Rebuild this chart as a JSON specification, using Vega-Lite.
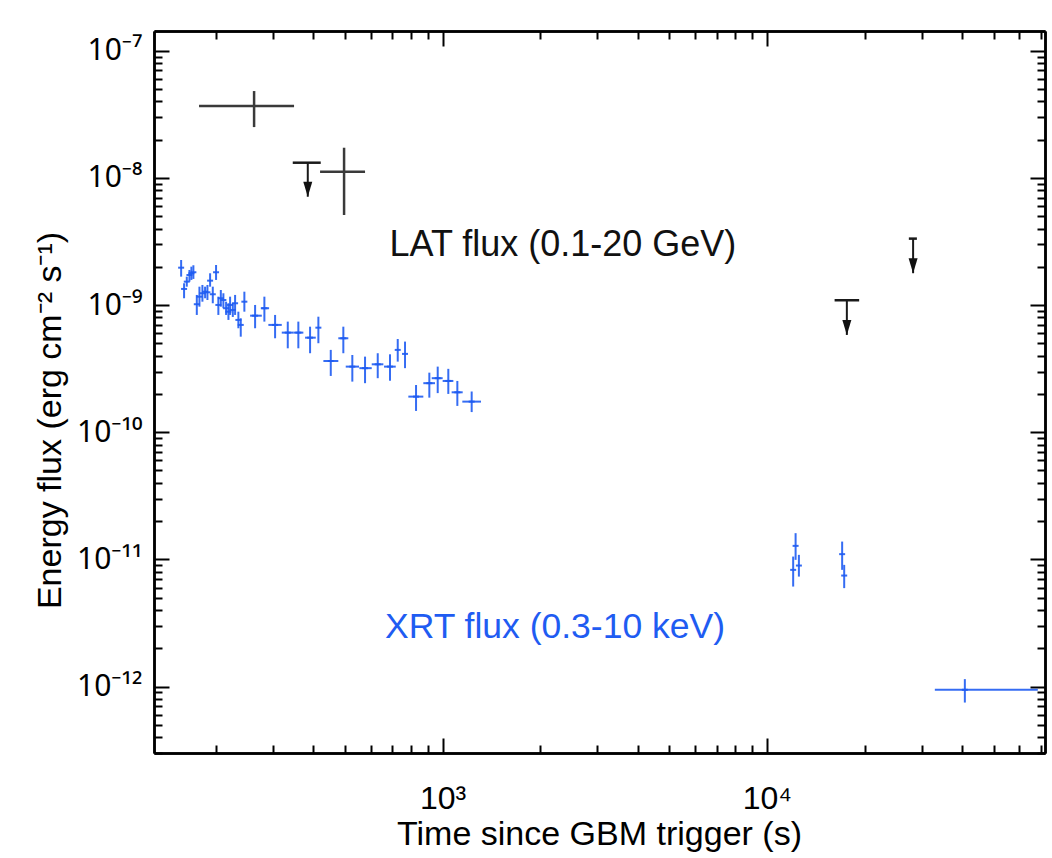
{
  "$schema": "https://vega.github.io/schema/vega-lite/v6.json",
  "width": 891,
  "height": 722,
  "autosize": "none",
  "padding": {"left": 154, "top": 31, "right": 7, "bottom": 105},
  "background": "white",
  "config": {
    "view": {"stroke": null},
    "font": "Liberation Sans",
    "axis": {
      "domainColor": "black", "domainWidth": 2.5,
      "tickColor": "black", "tickWidth": 2,
      "labelFont": "Liberation Sans", "labelFontSize": 32, "labelColor": "black",
      "titleFont": "Liberation Sans", "titleFontSize": 34, "titleFontWeight": "normal", "titleColor": "black",
      "grid": false, "labelOverlap": false, "labelBound": false, "labelFlush": false
    }
  },
  "datasets": {
    "lat_cross": [
      {"t": 262.5, "tlo": 177.6, "thi": 348.6, "f": 3.674e-8, "flo": 2.51e-8, "fhi": 4.82e-8},
      {"t": 497.2, "tlo": 419.3, "thi": 577.0, "f": 1.119e-8, "flo": 5.11e-9, "fhi": 1.727e-8}
    ],
    "lat_ul": [
      {"t": 384.3, "tlo": 345.4, "thi": 421.3, "f": 1.317e-8, "tip": 7.11e-9},
      {"t": 17640, "tlo": 16170, "thi": 19250, "f": 1.091e-9, "tip": 5.82e-10},
      {"t": 28230, "tlo": 27390, "thi": 29000, "f": 3.33e-9, "tip": 1.78e-9}
    ],
    "xrt": [
      {"t": 156.4, "f": 1.968e-9, "flo": 1.673e-9, "fhi": 2.262e-9},
      {"t": 159.7, "f": 1.339e-9, "flo": 1.131e-9, "fhi": 1.484e-9},
      {"t": 162.8, "f": 1.528e-9, "flo": 1.395e-9, "fhi": 1.673e-9},
      {"t": 165.9, "f": 1.724e-9, "flo": 1.528e-9, "fhi": 1.888e-9},
      {"t": 168.2, "f": 1.778e-9, "flo": 1.576e-9, "fhi": 2.004e-9},
      {"t": 170.6, "f": 1.811e-9, "flo": 1.605e-9, "fhi": 2.056e-9},
      {"t": 174.8, "f": 1.015e-9, "flo": 8.36e-10, "fhi": 1.201e-9},
      {"t": 178.1, "f": 1.164e-9, "flo": 9.71e-10, "fhi": 1.395e-9},
      {"t": 181.9, "f": 1.238e-9, "flo": 1.063e-9, "fhi": 1.439e-9},
      {"t": 185.4, "f": 1.274e-9, "flo": 1.131e-9, "fhi": 1.395e-9},
      {"t": 188.5, "f": 1.26e-9, "flo": 1.096e-9, "fhi": 1.439e-9},
      {"t": 192.1, "f": 1.556e-9, "flo": 1.395e-9, "fhi": 1.778e-9},
      {"t": 195.8, "f": 1.216e-9, "flo": 1.033e-9, "fhi": 1.395e-9},
      {"t": 200.4, "f": 1.811e-9, "flo": 1.576e-9, "fhi": 2.066e-9},
      {"t": 203.7, "f": 1.002e-9, "flo": 8.36e-10, "fhi": 1.164e-9},
      {"t": 207.3, "f": 1.131e-9, "flo": 9.71e-10, "fhi": 1.314e-9},
      {"t": 211.1, "f": 1.096e-9, "flo": 9.44e-10, "fhi": 1.238e-9},
      {"t": 215.2, "f": 9.44e-10, "flo": 8.36e-10, "fhi": 1.063e-9},
      {"t": 218.8, "f": 8.87e-10, "flo": 7.64e-10, "fhi": 1.033e-9},
      {"t": 221.4, "f": 1.002e-9, "flo": 8.36e-10, "fhi": 1.164e-9},
      {"t": 225.7, "f": 9.15e-10, "flo": 8.06e-10, "fhi": 1.04e-9},
      {"t": 229.4, "f": 1.033e-9, "flo": 8.36e-10, "fhi": 1.201e-9},
      {"t": 234.8, "f": 7.64e-10, "flo": 6.57e-10, "fhi": 8.87e-10},
      {"t": 238.8, "f": 6.98e-10, "flo": 5.64e-10, "fhi": 7.87e-10},
      {"t": 245.0, "f": 1.063e-9, "flo": 8.87e-10, "fhi": 1.274e-9},
      {"t": 264.4, "tlo": 255.2, "thi": 277.3, "f": 8.25e-10, "flo": 6.57e-10, "fhi": 1.002e-9},
      {"t": 282.4, "tlo": 275.3, "thi": 292.0, "f": 9.44e-10, "flo": 7.41e-10, "fhi": 1.164e-9},
      {"t": 304.7, "tlo": 290.5, "thi": 319.5, "f": 6.98e-10, "flo": 5.48e-10, "fhi": 8.36e-10},
      {"t": 333.4, "tlo": 319.5, "thi": 346.9, "f": 6.07e-10, "flo": 4.57e-10, "fhi": 7.41e-10},
      {"t": 359.4, "tlo": 346.9, "thi": 372.4, "f": 6.07e-10, "flo": 4.57e-10, "fhi": 7.41e-10},
      {"t": 390.6, "tlo": 377.0, "thi": 406.7, "f": 5.54e-10, "flo": 4.18e-10, "fhi": 6.76e-10},
      {"t": 414.3, "f": 6.64e-10, "flo": 5.01e-10, "fhi": 8.1e-10},
      {"t": 452.4, "tlo": 429.3, "thi": 477.3, "f": 3.63e-10, "flo": 2.77e-10, "fhi": 4.44e-10},
      {"t": 494.6, "tlo": 477.3, "thi": 512.4, "f": 5.48e-10, "flo": 4.18e-10, "fhi": 6.76e-10},
      {"t": 527.2, "tlo": 503.1, "thi": 553.0, "f": 3.28e-10, "flo": 2.50e-10, "fhi": 4.05e-10},
      {"t": 577.0, "tlo": 554.2, "thi": 605.1, "f": 3.19e-10, "flo": 2.43e-10, "fhi": 3.93e-10},
      {"t": 631.4, "tlo": 605.1, "thi": 657.1, "f": 3.42e-10, "flo": 2.66e-10, "fhi": 4.18e-10},
      {"t": 688.9, "tlo": 660.3, "thi": 717.5, "f": 3.28e-10, "flo": 2.54e-10, "fhi": 4.10e-10},
      {"t": 727.7, "f": 4.44e-10, "flo": 3.59e-10, "fhi": 5.41e-10},
      {"t": 766.4, "f": 4.13e-10, "flo": 3.19e-10, "fhi": 5.16e-10},
      {"t": 828.7, "tlo": 784.6, "thi": 872.7, "f": 1.905e-10, "flo": 1.47e-10, "fhi": 2.35e-10},
      {"t": 910.7, "tlo": 872.7, "thi": 948.2, "f": 2.43e-10, "flo": 1.87e-10, "fhi": 2.94e-10},
      {"t": 966.5, "tlo": 926.3, "thi": 1001, "f": 2.66e-10, "flo": 2.03e-10, "fhi": 3.28e-10},
      {"t": 1042, "tlo": 1001, "thi": 1080, "f": 2.53e-10, "flo": 2.00e-10, "fhi": 3.15e-10},
      {"t": 1111, "tlo": 1067, "thi": 1154, "f": 2.06e-10, "flo": 1.61e-10, "fhi": 2.53e-10},
      {"t": 1230, "tlo": 1151, "thi": 1314, "f": 1.74e-10, "flo": 1.44e-10, "fhi": 2.09e-10},
      {"t": 12050, "f": 8.27e-12, "flo": 6.11e-12, "fhi": 1.052e-11},
      {"t": 12260, "f": 1.277e-11, "flo": 9.91e-12, "fhi": 1.607e-11},
      {"t": 12550, "f": 8.94e-12, "flo": 7.32e-12, "fhi": 1.085e-11},
      {"t": 17060, "f": 1.099e-11, "flo": 8.27e-12, "fhi": 1.38e-11},
      {"t": 17310, "f": 7.46e-12, "flo": 5.94e-12, "fhi": 9.05e-12},
      {"t": 40760, "tlo": 32940, "thi": 68420, "f": 9.42e-13, "flo": 7.48e-13, "fhi": 1.143e-12}
    ],
    "labels": [
      {"t": 2351, "f": 2.97e-9, "label": "LAT flux (0.1-20 GeV)", "kind": "LAT"},
      {"t": 2222, "f": 2.95e-12, "label": "XRT flux (0.3-10 keV)", "kind": "XRT"}
    ]
  },
  "layer": [
    {
      "data": {"name": "lat_cross"},
      "mark": {"type": "rule", "color": "#3a3a3a", "strokeWidth": 2.5},
      "encoding": {
        "x": {"field": "tlo", "type": "quantitative",
          "scale": {"type": "log", "domain": [129, 72000], "nice": false},
          "axis": {
            "orient": "bottom",
            "values": [1000, 10000],
            "tickSize": -15,
            "labelExpr": "datum.value == 1000 ? '10³' : '10⁴'",
            "labelPadding": 45,
            "title": "Time since GBM trigger (s)",
            "titleX": 445, "titleY": 91, "titleBaseline": "alphabetic"
          }},
        "x2": {"field": "thi"},
        "y": {"field": "f", "type": "quantitative",
          "scale": {"type": "log", "domain": [3.0e-13, 1.43e-7], "nice": false},
          "axis": {
            "orient": "left",
            "values": [1e-12, 1e-11, 1e-10, 1e-9, 1e-8, 1e-7],
            "tickSize": -15,
            "labelFont": "Noto Sans",
            "labelFontSize": 30,
            "labelExpr": "datum.value == 1e-7 ? '10⁻⁷' : datum.value == 1e-8 ? '10⁻⁸' : datum.value == 1e-9 ? '10⁻⁹' : datum.value == 1e-10 ? '10⁻¹⁰' : datum.value == 1e-11 ? '10⁻¹¹' : '10⁻¹²'",
            "labelPadding": 27,
            "title": "Energy flux (erg cm⁻² s⁻¹)",
            "titleX": -104, "titleY": 389, "titleAngle": -90, "titleBaseline": "middle", "titleAlign": "center"
          }}
      }
    },
    {
      "data": {"name": "lat_cross"},
      "mark": {"type": "rule", "color": "#3a3a3a", "strokeWidth": 2.5},
      "encoding": {
        "x": {"field": "t", "type": "quantitative",
          "scale": {"type": "log", "domain": [129, 72000], "nice": false},
          "axis": {"orient": "top", "values": [1000, 10000], "tickSize": -15, "labels": false, "title": null}},
        "y": {"field": "flo", "type": "quantitative",
          "scale": {"type": "log", "domain": [3.0e-13, 1.43e-7], "nice": false},
          "axis": {"orient": "right", "values": [1e-12, 1e-11, 1e-10, 1e-9, 1e-8, 1e-7], "tickSize": -15, "labels": false, "title": null}},
        "y2": {"field": "fhi"}
      }
    },
    {
      "data": {"name": "lat_ul"},
      "mark": {"type": "rule", "color": "#1a1a1a", "strokeWidth": 2.5},
      "encoding": {
        "x": {"field": "tlo", "type": "quantitative", "scale": {"type": "log", "domain": [129, 72000], "nice": false},
          "axis": {"orient": "bottom", "values": [200, 300, 400, 500, 600, 700, 800, 900, 2000, 3000, 4000, 5000, 6000, 7000, 8000, 9000, 20000, 30000, 40000, 50000, 60000, 70000], "tickSize": -8, "labels": false, "title": null}},
        "x2": {"field": "thi"},
        "y": {"field": "f", "type": "quantitative", "scale": {"type": "log", "domain": [3.0e-13, 1.43e-7], "nice": false},
          "axis": {"orient": "left", "values": [3e-13, 4e-13, 5e-13, 6e-13, 7e-13, 8e-13, 9e-13, 2e-12, 3e-12, 4e-12, 5e-12, 6e-12, 7e-12, 8e-12, 9e-12, 2e-11, 3e-11, 4e-11, 5e-11, 6e-11, 7e-11, 8e-11, 9e-11, 2e-10, 3e-10, 4e-10, 5e-10, 6e-10, 7e-10, 8e-10, 9e-10, 2e-9, 3e-9, 4e-9, 5e-9, 6e-9, 7e-9, 8e-9, 9e-9, 2e-8, 3e-8, 4e-8, 5e-8, 6e-8, 7e-8, 8e-8, 9e-8], "tickSize": -8, "labels": false, "title": null}}
      }
    },
    {
      "data": {"name": "lat_ul"},
      "mark": {"type": "rule", "color": "#1a1a1a", "strokeWidth": 2},
      "encoding": {
        "x": {"field": "t", "type": "quantitative", "scale": {"type": "log", "domain": [129, 72000], "nice": false},
          "axis": {"orient": "top", "values": [200, 300, 400, 500, 600, 700, 800, 900, 2000, 3000, 4000, 5000, 6000, 7000, 8000, 9000, 20000, 30000, 40000, 50000, 60000, 70000], "tickSize": -8, "labels": false, "title": null}},
        "y": {"field": "f", "type": "quantitative", "scale": {"type": "log", "domain": [3.0e-13, 1.43e-7], "nice": false},
          "axis": {"orient": "right", "values": [3e-13, 4e-13, 5e-13, 6e-13, 7e-13, 8e-13, 9e-13, 2e-12, 3e-12, 4e-12, 5e-12, 6e-12, 7e-12, 8e-12, 9e-12, 2e-11, 3e-11, 4e-11, 5e-11, 6e-11, 7e-11, 8e-11, 9e-11, 2e-10, 3e-10, 4e-10, 5e-10, 6e-10, 7e-10, 8e-10, 9e-10, 2e-9, 3e-9, 4e-9, 5e-9, 6e-9, 7e-9, 8e-9, 9e-9, 2e-8, 3e-8, 4e-8, 5e-8, 6e-8, 7e-8, 8e-8, 9e-8], "tickSize": -8, "labels": false, "title": null}},
        "y2": {"field": "tip"}
      }
    },
    {
      "data": {"name": "lat_ul"},
      "mark": {"type": "point", "shape": "M-0.6,-2L0.6,-2L0,0Z", "size": 225, "filled": true, "color": "#111111", "opacity": 1, "strokeWidth": 0},
      "encoding": {
        "x": {"field": "t", "type": "quantitative", "scale": {"type": "log", "domain": [129, 72000], "nice": false}, "axis": null},
        "y": {"field": "tip", "type": "quantitative", "scale": {"type": "log", "domain": [3.0e-13, 1.43e-7], "nice": false}, "axis": null}
      }
    },
    {
      "data": {"name": "xrt"},
      "mark": {"type": "rule", "color": "#1f5cf2", "strokeWidth": 2, "opacity": 0.9},
      "encoding": {
        "x": {"field": "t", "type": "quantitative", "scale": {"type": "log", "domain": [129, 72000], "nice": false}, "axis": null},
        "y": {"field": "flo", "type": "quantitative", "scale": {"type": "log", "domain": [3.0e-13, 1.43e-7], "nice": false}, "axis": null},
        "y2": {"field": "fhi"}
      }
    },
    {
      "data": {"name": "xrt"},
      "transform": [{"filter": "isValid(datum.tlo)"}],
      "mark": {"type": "rule", "color": "#1f5cf2", "strokeWidth": 2, "opacity": 0.9},
      "encoding": {
        "x": {"field": "tlo", "type": "quantitative", "scale": {"type": "log", "domain": [129, 72000], "nice": false}, "axis": null},
        "x2": {"field": "thi"},
        "y": {"field": "f", "type": "quantitative", "scale": {"type": "log", "domain": [3.0e-13, 1.43e-7], "nice": false}, "axis": null}
      }
    },
    {
      "data": {"name": "xrt"},
      "mark": {"type": "point", "shape": "stroke", "size": 36, "filled": false, "color": "#1f5cf2", "strokeWidth": 2, "opacity": 0.9},
      "encoding": {
        "x": {"field": "t", "type": "quantitative", "scale": {"type": "log", "domain": [129, 72000], "nice": false}, "axis": null},
        "y": {"field": "f", "type": "quantitative", "scale": {"type": "log", "domain": [3.0e-13, 1.43e-7], "nice": false}, "axis": null}
      }
    },
    {
      "data": {"name": "labels"},
      "transform": [{"filter": "datum.kind == 'LAT'"}],
      "mark": {"type": "text", "font": "Liberation Sans", "fontSize": 36, "color": "#111111", "align": "center", "baseline": "middle"},
      "encoding": {
        "x": {"field": "t", "type": "quantitative", "scale": {"type": "log", "domain": [129, 72000], "nice": false}, "axis": null},
        "y": {"field": "f", "type": "quantitative", "scale": {"type": "log", "domain": [3.0e-13, 1.43e-7], "nice": false}, "axis": null},
        "text": {"field": "label"}
      }
    },
    {
      "data": {"name": "labels"},
      "transform": [{"filter": "datum.kind == 'XRT'"}],
      "mark": {"type": "text", "font": "Liberation Sans", "fontSize": 35.5, "color": "#1f5cf2", "align": "center", "baseline": "middle"},
      "encoding": {
        "x": {"field": "t", "type": "quantitative", "scale": {"type": "log", "domain": [129, 72000], "nice": false}, "axis": null},
        "y": {"field": "f", "type": "quantitative", "scale": {"type": "log", "domain": [3.0e-13, 1.43e-7], "nice": false}, "axis": null},
        "text": {"field": "label"}
      }
    }
  ],
  "resolve": {"axis": {"x": "independent", "y": "independent"}}
}
